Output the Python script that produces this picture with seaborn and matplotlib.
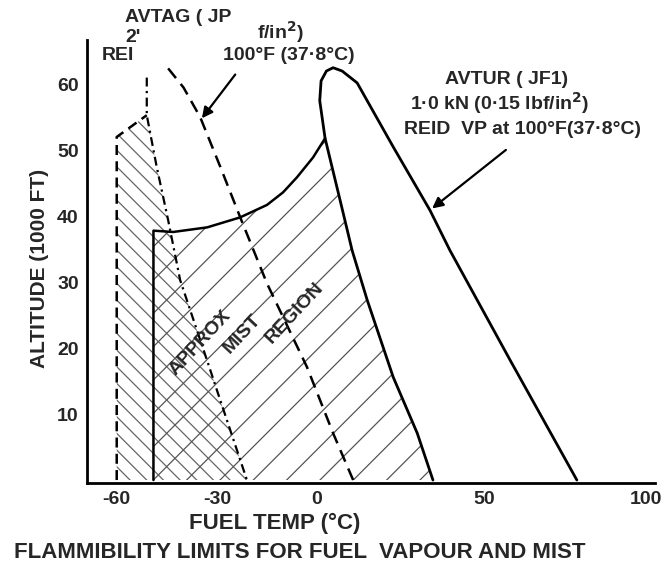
import matplotlib
matplotlib.use("Agg")
import matplotlib.pyplot as plt
import matplotlib.transforms as mtransforms
import seaborn as sns

# AVTUR (JF1) flammability loop: lean side up, over the top, rich side down
avtur_temp = [34.7, 30.0, 22.8, 15.0, 10.5, 6.9, 2.4, 0.8, 1.2, 2.8, 4.8, 7.5, 12.0, 22.8, 33.8, 39.8, 58.0, 77.8]
avtur_alt = [0.0, 7.1, 15.6, 27.3, 34.8, 42.4, 51.8, 57.5, 60.5, 62.0, 62.5, 62.0, 60.2, 50.5, 40.9, 34.8, 18.0, 0.0]

# upper edge of the approx mist region (solid)
mist_temp = [-49.0, -49.0, -43.1, -32.9, -23.1, -15.0, -10.2, -6.0, -1.2, 2.4]
mist_alt = [0.0, 37.8, 37.6, 38.3, 39.8, 41.7, 43.6, 45.9, 48.9, 51.8]

# AVTAG (JP4) lean limit (dash-dot) and rich limit (dashed)
lean_temp = [-51.0, -51.0, -48.0, -44.6, -41.0, -32.0, -29.0, -21.0]
lean_alt = [61.0, 55.3, 47.4, 39.4, 30.3, 16.7, 12.1, 0.0]
rich_temp = [-44.6, -40.0, -35.0, -29.0, -23.0, -15.0, -3.0, 4.8, 10.8]
rich_alt = [62.4, 59.5, 55.0, 47.5, 39.8, 29.8, 17.1, 7.1, 0.0]

# left edge of the AVTAG vapour region (dashed)
edge_temp = [-60.0, -60.0, -51.0]
edge_alt = [0.0, 52.0, 55.3]

x_ticks = [-60, -30, 0, 50, 100]
x_minor = [-50, -40, -20, -10, 10, 20, 30, 40, 60, 70, 80, 90]
y_ticks = [10, 20, 30, 40, 50, 60]
y_minor = [5, 15, 25, 35, 45, 55]

W, H = 664, 567


def px(x, y):
    return x / W, 1 - y / H


sns.set_theme(style="white")
plt.rcParams['font.family'] = ['Liberation Sans', 'DejaVu Sans']
plt.rcParams['font.weight'] = 'bold'
plt.rcParams['axes.unicode_minus'] = False
plt.rcParams['hatch.linewidth'] = 0.9

fig = plt.figure(figsize=(W / 100, H / 100), dpi=100)
ax = fig.add_axes([87 / W, 1 - 483 / H, (655 - 87) / W, (483 - 40) / H])

# hatched regions
vap_x = edge_temp + lean_temp[1:]
vap_y = edge_alt + lean_alt[1:]
ax.fill(vap_x, vap_y, facecolor='none', edgecolor='#666666', hatch='\\\\', linewidth=0)
mist_x = mist_temp + avtur_temp[:6][::-1]
mist_y = mist_alt + avtur_alt[:6][::-1]
ax.fill(mist_x, mist_y, facecolor='none', edgecolor='#555555', hatch='/', linewidth=0)

# boundaries
sns.lineplot(x=avtur_temp, y=avtur_alt, sort=False, estimator=None, color='black', lw=2.0, ax=ax)
sns.lineplot(x=mist_temp, y=mist_alt, sort=False, estimator=None, color='black', lw=1.8, ax=ax)
sns.lineplot(x=rich_temp, y=rich_alt, sort=False, estimator=None, color='black', lw=1.8,
             linestyle=(0, (5, 3)), ax=ax)
sns.lineplot(x=lean_temp, y=lean_alt, sort=False, estimator=None, color='black', lw=1.6,
             linestyle=(0, (4, 2, 1, 2)), ax=ax)
sns.lineplot(x=edge_temp, y=edge_alt, sort=False, estimator=None, color='black', lw=1.8,
             linestyle=(0, (4, 2.5)), ax=ax)

# axes
ax.set_xlim(-68.9, 101.2)
ax.set_ylim(-0.45, 66.7)
ax.set_xticks(x_ticks)
ax.set_xticks(x_minor, minor=True)
ax.set_yticks(y_ticks)
ax.set_yticks(y_minor, minor=True)
ax.tick_params(which='both', direction='in', length=6, width=1.8, color='black',
               labelsize=14, pad=6)
for s in ['top', 'right']:
    ax.spines[s].set_visible(False)
for s in ['left', 'bottom']:
    ax.spines[s].set_linewidth(2.0)
    ax.spines[s].set_color('black')
ax.set_xlabel('')
ax.set_ylabel('')
# pull the last x label in a little so it stays inside the canvas
last = ax.get_xticklabels()[-1]
last.set_transform(last.get_transform() + mtransforms.ScaledTranslation(-5 / 100, 0, fig.dpi_scale_trans))

fs = 15
fig.text(*px(40, 268), 'ALTITUDE (1000 FT)', rotation=90, ha='center', va='center', fontsize=fs)
fig.text(*px(275, 523), 'FUEL TEMP (°C)', ha='center', va='center', fontsize=fs + 1)
fig.text(*px(300, 552), 'FLAMMIBILITY LIMITS FOR FUEL  VAPOUR AND MIST', ha='center',
         va='center', fontsize=fs + 1)

# mist region label
ax.text(-35, 20.8, 'APPROX', rotation=47, ha='center', va='center', fontsize=14)
ax.text(-22.5, 22.1, 'MIST', rotation=47, ha='center', va='center', fontsize=14)
ax.text(-6.6, 25.3, 'REGION', rotation=47, ha='center', va='center', fontsize=14)

# AVTAG label (partly lost in the original scan)
fig.text(*px(125, 17), 'AVTAG ( JP', ha='left', va='center', fontsize=14)
fig.text(*px(125, 37), "2'", ha='left', va='center', fontsize=14)
fig.text(*px(257, 32), 'f/in$^{2}$)', ha='left', va='center', fontsize=14)
fig.text(*px(102, 56), 'REI', ha='left', va='center', fontsize=14)
fig.text(*px(223, 55), '100°F (37·8°C)', ha='left', va='center', fontsize=14)
ax.annotate('', xy=(-35, 54.5), xytext=(-24, 61.8),
            arrowprops=dict(arrowstyle='-|>', color='black', lw=1.6, mutation_scale=16))

# AVTUR label
fig.text(*px(507, 80), 'AVTUR ( JF1)', ha='center', va='center', fontsize=14)
fig.text(*px(500, 103), '1·0 kN (0·15 lbf/in$^{2}$)', ha='center', va='center', fontsize=14)
fig.text(*px(522, 130), 'REID  VP at 100°F(37·8°C)', ha='center', va='center', fontsize=14)
ax.annotate('', xy=(33.8, 40.9), xytext=(57.2, 50.3),
            arrowprops=dict(arrowstyle='-|>', color='black', lw=1.6, mutation_scale=16))

fig.savefig('out.png', dpi=100)
